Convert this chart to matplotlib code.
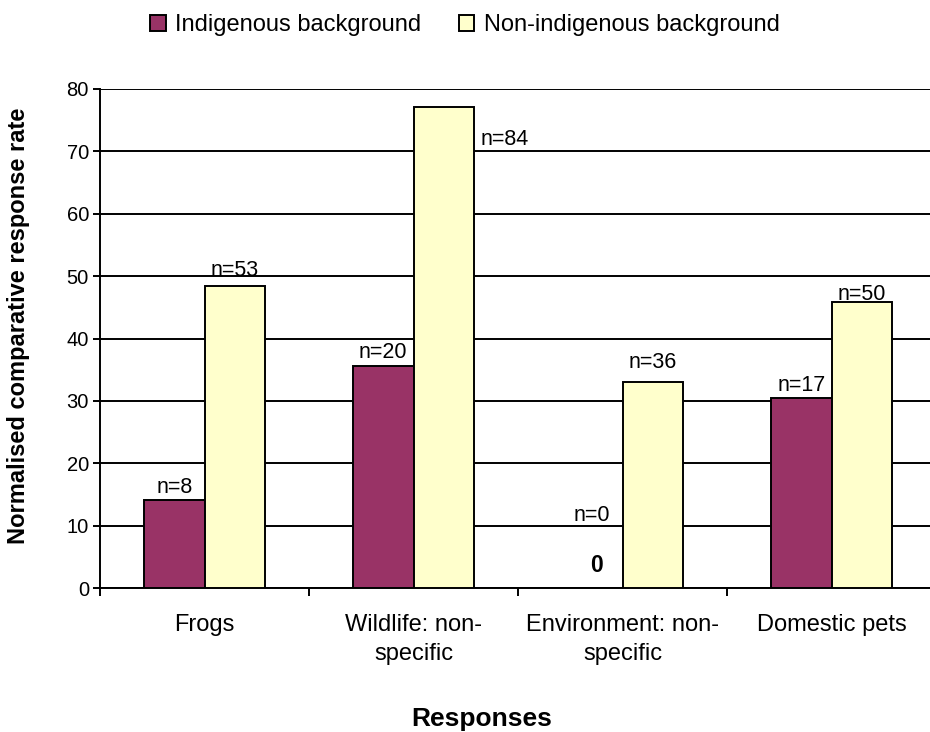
import matplotlib
matplotlib.use("Agg")
import matplotlib.pyplot as plt
import numpy as np

categories = ["Frogs", "Wildlife: non-\nspecific", "Environment: non-\nspecific", "Domestic pets"]
indigenous = [14.1, 35.6, 0.0, 30.4]
non_indigenous = [48.4, 77.1, 33.0, 45.8]
n_indigenous = ["n=8", "n=20", "n=0", "n=17"]
n_non_indigenous = ["n=53", "n=84", "n=36", "n=50"]
series_names = ["Indigenous background", "Non-indigenous background"]
yticks = [0, 10, 20, 30, 40, 50, 60, 70, 80]

plt.rcParams['font.family'] = ['Liberation Sans', 'DejaVu Sans']

fig = plt.figure(figsize=(9.3, 7.32), dpi=100)
ax = fig.add_axes([100/930, 144/732, 836/930, 499/732])

x = np.arange(len(categories))
w = 0.29
b1 = ax.bar(x - w/2, indigenous, w, color="#993366", edgecolor="black", linewidth=1.4, label=series_names[0], zorder=3)
b2 = ax.bar(x + w/2, non_indigenous, w, color="#FFFFCC", edgecolor="black", linewidth=1.4, label=series_names[1], zorder=3)

ax.set_xlim(-0.5, len(categories) - 0.5)
ax.set_ylim(0, 80)
ax.set_yticks(yticks)
ax.tick_params(axis='y', labelsize=14.5, length=5, width=1.4, direction='out', pad=3)
ax.yaxis.grid(True, color="black", linewidth=1.4, zorder=0)
ax.set_axisbelow(True)

ax.set_xticks(x)
ax.set_xticklabels(categories, fontsize=17, linespacing=1.4)
ax.tick_params(axis='x', length=0, pad=19)
# category boundary ticks
ax.set_xticks(np.arange(len(categories) + 1) - 0.5, minor=True)
ax.tick_params(axis='x', which='minor', length=6, width=1.4, direction='out')

for s in ["top", "right"]:
    ax.spines[s].set_visible(False)
ax.spines["left"].set_linewidth(1.4)
ax.spines["bottom"].set_linewidth(1.4)

ax.set_ylabel("Normalised comparative response rate", fontsize=17, fontweight="bold")
ax.yaxis.set_label_coords(-70/836, 0.525)
ax.set_xlabel("Responses", fontsize=19, fontweight="bold")
ax.xaxis.set_label_coords(0.456, -119/499)

fs = 15.5
# indigenous labels
for i, (v, t) in enumerate(zip(indigenous, n_indigenous)):
    if v == 0:
        ax.text(x[i] - w/2, 9.9, t, ha="center", va="bottom", fontsize=fs)
        ax.text(x[i] - w/2 + 0.02, 1.8, "0", ha="center", va="bottom", fontsize=fs + 1, fontweight="bold")
    else:
        ax.text(x[i] - w/2, v + 0.4, t, ha="center", va="bottom", fontsize=fs)
# non-indigenous labels
for i, (v, t) in enumerate(zip(non_indigenous, n_non_indigenous)):
    if i == 1:
        ax.text(x[i] + w + 0.03, v - 6.8, t, ha="left", va="bottom", fontsize=fs)
    elif i == 2:
        ax.text(x[i] + w/2, v + 1.5, t, ha="center", va="bottom", fontsize=fs)
    elif i == 3:
        ax.text(x[i] + w/2, v - 0.5, t, ha="center", va="bottom", fontsize=fs)
    else:
        ax.text(x[i] + w/2, v + 0.8, t, ha="center", va="bottom", fontsize=fs)

fig.legend(handles=[b1, b2], labels=series_names, loc="upper center", bbox_to_anchor=(0.5, 1.01),
           ncol=2, frameon=False, fontsize=17, handlelength=0.65, handleheight=0.65,
           handletextpad=0.4, columnspacing=1.6)

fig.savefig("out.png", dpi=100)
